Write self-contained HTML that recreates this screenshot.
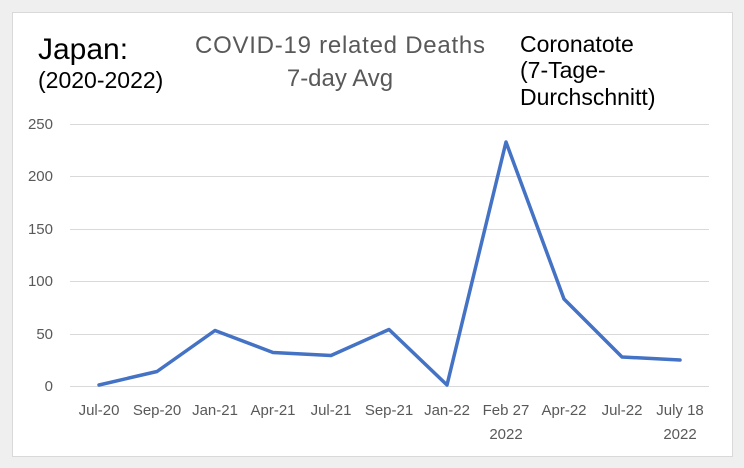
<!DOCTYPE html>
<html><head><style>
body{margin:0;width:744px;height:468px;background:#efefef;overflow:hidden;font-family:"Liberation Sans",sans-serif}
</style></head><body>
<svg width="744" height="468" style="position:absolute;left:0;top:0">
<rect x="12.5" y="12.5" width="720" height="444" fill="#fff" stroke="#d9d9d9"/>
<g stroke="#d9d9d9" stroke-width="1">
<line x1="70" x2="709" y1="124.5" y2="124.5"/>
<line x1="70" x2="709" y1="176.5" y2="176.5"/>
<line x1="70" x2="709" y1="229.5" y2="229.5"/>
<line x1="70" x2="709" y1="281.5" y2="281.5"/>
<line x1="70" x2="709" y1="334.5" y2="334.5"/>
<line x1="70" x2="709" y1="386.5" y2="386.5"/>
</g>
<g font-size="15" fill="#595959" text-anchor="end" font-family="Liberation Sans, sans-serif">
<text x="53" y="129">250</text><text x="53" y="181">200</text><text x="53" y="234">150</text>
<text x="53" y="286">100</text><text x="53" y="339">50</text><text x="53" y="391">0</text>
</g>
<g font-size="15" fill="#595959" text-anchor="middle" font-family="Liberation Sans, sans-serif">
<text x="99" y="415">Jul-20</text><text x="157" y="415">Sep-20</text><text x="215" y="415">Jan-21</text>
<text x="273" y="415">Apr-21</text><text x="331" y="415">Jul-21</text><text x="389" y="415">Sep-21</text>
<text x="447" y="415">Jan-22</text><text x="506" y="415">Feb 27</text><text x="506" y="439">2022</text>
<text x="564" y="415">Apr-22</text><text x="622" y="415">Jul-22</text><text x="680" y="415">July 18</text><text x="680" y="439">2022</text>
</g>
<polyline fill="none" stroke="#4472c4" stroke-width="3.5" stroke-linejoin="round" stroke-linecap="round"
points="99,385 157,371.5 215,330.5 273,352.5 331,355.5 389,329.5 447,385 506,142 564,299 622,357 680,360"/>
<text x="340" y="53" font-size="24" fill="#595959" text-anchor="middle" font-family="Liberation Sans, sans-serif" textLength="290">COVID-19 related Deaths</text>
<text x="340" y="86" font-size="24" fill="#595959" text-anchor="middle" font-family="Liberation Sans, sans-serif">7-day Avg</text>
<text x="38" y="59" font-size="30" fill="#000" font-family="Liberation Sans, sans-serif">Japan:</text>
<text x="38" y="88" font-size="23" fill="#000" font-family="Liberation Sans, sans-serif">(2020-2022)</text>
<text x="520" y="52" font-size="23" fill="#000" font-family="Liberation Sans, sans-serif">Coronatote</text>
<text x="520" y="78" font-size="23" fill="#000" font-family="Liberation Sans, sans-serif">(7-Tage-</text>
<text x="520" y="105" font-size="23" fill="#000" font-family="Liberation Sans, sans-serif">Durchschnitt)</text>
</svg>
</body></html>
